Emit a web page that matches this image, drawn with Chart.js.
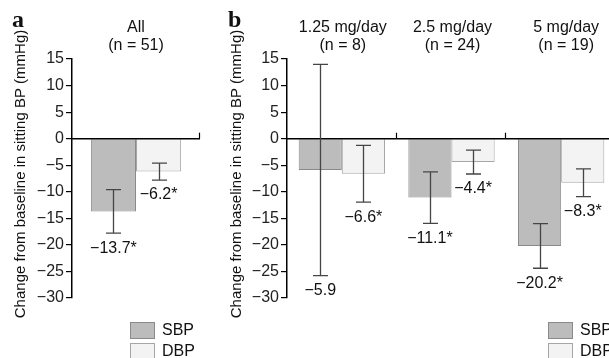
<!DOCTYPE html>
<html lang="en">
<head>
  <meta charset="UTF-8">
  <title>Change from baseline in sitting BP</title>
  <script src="https://cdn.jsdelivr.net/npm/chart.js@4"></script>
  <style>
    html, body { margin: 0; padding: 0; background: #fff; overflow: hidden; }
    #wrap { position: relative; width: 609px; height: 358px; overflow: hidden; }
    canvas { position: absolute; top: 0; }
  </style>
</head>
<body>
<div id="wrap">
  <canvas id="chartA" width="210" height="358" style="left:0"></canvas>
  <canvas id="chartB" width="420" height="358" style="left:205px"></canvas>
</div>

<script>
  // panel a - all patients
  const groupsA = [['All', '(n = 51)']];
  const sbpA = [-13.7];
  const dbpA = [-6.2];
  const sbpErrA = [4.1];
  const dbpErrA = [1.6];
  const sbpSigA = [true];
  const dbpSigA = [true];

  // panel b - by dose
  const groupsB = [['1.25 mg/day', '(n = 8)'], ['2.5 mg/day', '(n = 24)'], ['5 mg/day', '(n = 19)']];
  const sbpB = [-5.9, -11.1, -20.2];
  const dbpB = [-6.6, -4.4, -8.3];
  const sbpErrB = [19.9, 4.85, 4.2];
  const dbpErrB = [5.35, 2.25, 2.6];
  const sbpSigB = [false, true, true];
  const dbpSigB = [true, true, true];

  const yMin = -30, yMax = 15, yStep = 5;
  const yTitle = 'Change from baseline in sitting BP (mmHg)';

  const FONT = '"Liberation Sans", Arial, sans-serif';
  const SBP_FILL = '#bcbcbc', SBP_LINE = '#8a8a8a';
  const DBP_FILL = '#f3f3f3', DBP_LINE = '#a6a6a6';

  const minus = v => (v < 0 ? '\u2212' + Math.abs(v) : String(v));
  const valueLabel = (v, sig) => '\u2212' + Math.abs(v).toFixed(1) + (sig ? '*' : '');

  // draws zero axis, error bars, value labels, headers, legend
  const panelPlugin = {
    id: 'panel',
    afterDatasetsDraw(chart, args, opts) {
      const ctx = chart.ctx;
      const x = chart.scales.x, y = chart.scales.y;
      const area = chart.chartArea;
      const y0 = y.getPixelForValue(0);

      ctx.save();
      // zero line with ticks at category boundaries
      ctx.strokeStyle = '#000';
      ctx.lineWidth = 1.5;
      ctx.beginPath();
      ctx.moveTo(area.left, y0);
      ctx.lineTo(area.right, y0);
      ctx.stroke();
      ctx.lineWidth = 1.2;
      ctx.beginPath();
      chart.data.labels.forEach((l, i) => {
        const bx = Math.round(x.getPixelForValue(i + 0.5)) - 0.5;
        ctx.moveTo(bx, y0);
        ctx.lineTo(bx, y0 - 6);
      });
      ctx.stroke();

      // error bars + labels
      chart.data.datasets.forEach((ds, di) => {
        const meta = chart.getDatasetMeta(di);
        meta.data.forEach((bar, i) => {
          const v = ds.data[i], e = ds.errors[i];
          const top = y.getPixelForValue(v + e);
          const bot = y.getPixelForValue(v - e);
          const bx = Math.round(bar.x) + 0.5;
          ctx.strokeStyle = '#454545';
          ctx.lineWidth = 1.3;
          ctx.beginPath();
          ctx.moveTo(bx, top); ctx.lineTo(bx, bot);
          ctx.moveTo(bx - 7.5, top); ctx.lineTo(bx + 7.5, top);
          ctx.moveTo(bx - 7.5, bot); ctx.lineTo(bx + 7.5, bot);
          ctx.stroke();

          ctx.fillStyle = '#111';
          ctx.font = '16px ' + FONT;
          ctx.textAlign = 'center';
          ctx.textBaseline = 'middle';
          ctx.fillText(valueLabel(v, ds.sig[i]), bar.x, bot + 15);
        });
      });
      ctx.restore();
    },
    afterDraw(chart, args, opts) {
      const ctx = chart.ctx;
      const x = chart.scales.x;
      ctx.save();
      ctx.fillStyle = '#111';

      // group headers
      ctx.font = '16px ' + FONT;
      ctx.textAlign = 'center';
      ctx.textBaseline = 'middle';
      opts.groups.forEach((g, i) => {
        const cx = x.getPixelForValue(i) + (opts.headerShift[i] || 0);
        ctx.fillText(g[0], cx, 28);
        ctx.fillText(g[1], cx, 46);
      });

      // panel letter
      ctx.font = 'bold 24px "Liberation Serif", "Times New Roman", serif';
      ctx.textAlign = 'left';
      ctx.textBaseline = 'alphabetic';
      ctx.fillText(opts.letter, opts.letterX, 27);

      // y title
      ctx.font = '15px ' + FONT;
      ctx.textAlign = 'center';
      ctx.textBaseline = 'middle';
      ctx.translate(opts.titleX, 174);
      ctx.rotate(-Math.PI / 2);
      ctx.fillText(yTitle, 0, 0);
      ctx.restore();

      // legend
      ctx.save();
      chart.data.datasets.forEach((ds, di) => {
        const ly = 322 + di * 21;
        ctx.fillStyle = ds.backgroundColor;
        ctx.strokeStyle = ds.borderColor;
        ctx.lineWidth = 1;
        ctx.fillRect(opts.legendX, ly, 24, 16);
        ctx.strokeRect(opts.legendX + 0.5, ly + 0.5, 24, 16);
        ctx.fillStyle = '#111';
        ctx.font = '16px ' + FONT;
        ctx.textAlign = 'left';
        ctx.textBaseline = 'middle';
        ctx.fillText(ds.label, opts.legendX + 32, ly + 9);
      });
      ctx.restore();
    }
  };

  function makeChart(id, groups, sbp, dbp, sbpErr, dbpErr, sbpSig, dbpSig, catPct, padRight, panel) {
    return new Chart(document.getElementById(id), {
      type: 'bar',
      data: {
        labels: groups.map(g => g[0]),
        datasets: [
          { label: 'SBP', data: sbp, errors: sbpErr, sig: sbpSig,
            backgroundColor: SBP_FILL, borderColor: SBP_LINE, borderWidth: 1 },
          { label: 'DBP', data: dbp, errors: dbpErr, sig: dbpSig,
            backgroundColor: DBP_FILL, borderColor: DBP_LINE, borderWidth: 1 }
        ]
      },
      options: {
        responsive: false,
        animation: false,
        devicePixelRatio: 1,
        categoryPercentage: catPct,
        barPercentage: 1,
        layout: { padding: { top: 59, bottom: 60, left: 0, right: padRight } },
        plugins: {
          legend: { display: false },
          tooltip: { enabled: false },
          panel: Object.assign({ groups: groups }, panel)
        },
        scales: {
          x: { display: false, offset: true },
          y: {
            min: yMin, max: yMax,
            ticks: {
              stepSize: yStep, padding: 2, color: '#222',
              font: { family: FONT, size: 16 },
              callback: v => minus(v)
            },
            grid: { drawOnChartArea: false, tickLength: 6, color: '#000', lineWidth: 1.2 },
            border: { color: '#000', width: 1.5 },
            afterFit(s) { s.width = panel.axisWidth; }
          }
        }
      },
      plugins: [panelPlugin]
    });
  }

  makeChart('chartA', groupsA, sbpA, dbpA, sbpErrA, dbpErrA, sbpSigA, dbpSigA, 0.705, 10,
    { letter: 'a', letterX: 12, titleX: 21, legendX: 130, axisWidth: 72, headerShift: [0] });

  makeChart('chartB', groupsB, sbpB, dbpB, sbpErrB, dbpErrB, sbpSigB, dbpSigB, 0.787, 9,
    { letter: 'b', letterX: 23, titleX: 32, legendX: 343, axisWidth: 82, headerShift: [1, 1, 5] });
</script>
</body>
</html>
